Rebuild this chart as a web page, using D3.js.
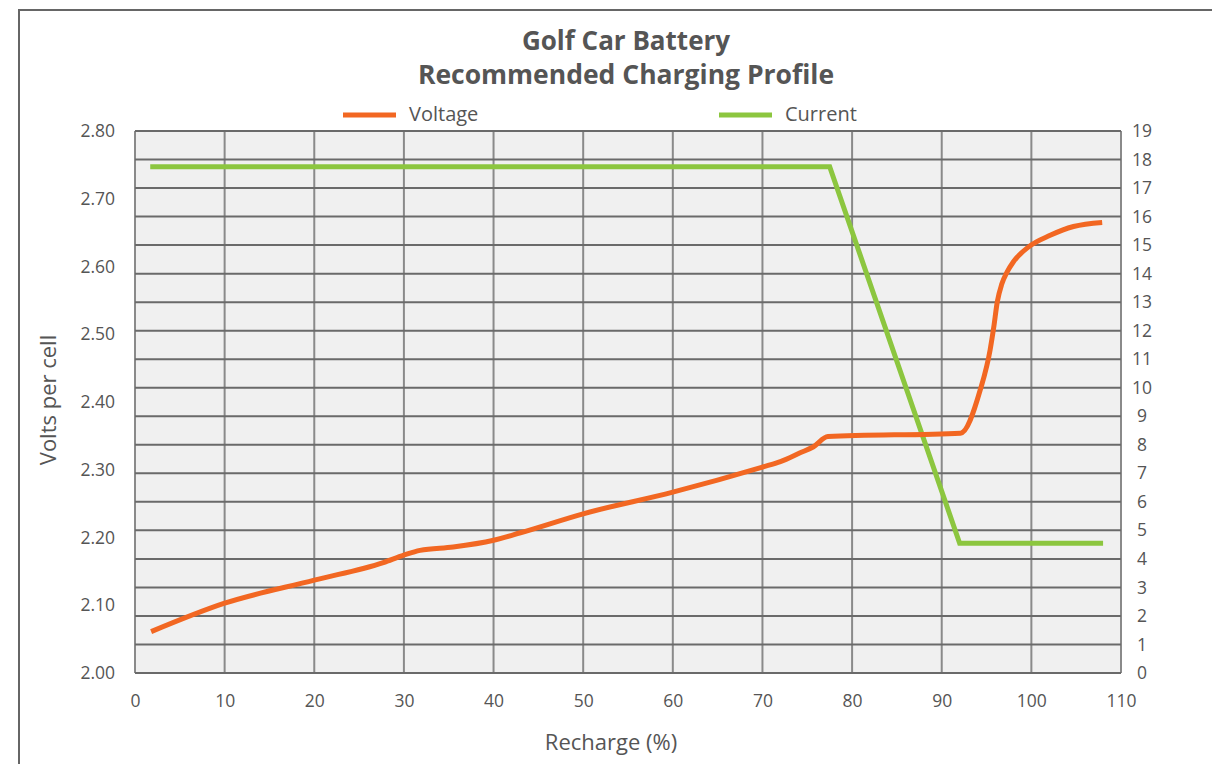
<!DOCTYPE html>
<html lang="en">
<head>
<meta charset="UTF-8">
<title>Golf Car Battery Charging Profile</title>
<script src="https://d3js.org/d3.v7.min.js"></script>
<style>
    body { margin: 0; background: #fff; }
    svg { display: block; font-family: 'Open Sans', 'Noto Sans', sans-serif; }
</style>
</head>
<body>
<svg id="chart" width="1212" height="764"></svg>
<script>
// recharge % / volts per cell
const voltageX = [1.8, 10, 20, 27.7, 30, 31.8, 35.5, 40, 43, 50, 60, 70, 72, 74.2, 75.7, 77.3, 92.1, 94.3, 95.4, 95.8, 96.2, 96.7, 97.3, 98, 99.7, 102.1, 104.7, 107.9];
const voltageY = [2.061, 2.103, 2.137, 2.163, 2.174, 2.181, 2.186, 2.196, 2.207, 2.235, 2.267, 2.304, 2.312, 2.325, 2.334, 2.349, 2.354, 2.418, 2.477, 2.510, 2.548, 2.574, 2.592, 2.607, 2.629, 2.646, 2.659, 2.665];
// recharge % / current (A)
const currentX = [1.7, 77.5, 92, 108];
const currentY = [17.75, 17.75, 4.55, 4.55];

const xTicks = d3.range(0, 111, 10);
const voltTicks = [2.0, 2.1, 2.2, 2.3, 2.4, 2.5, 2.6, 2.7, 2.8];
const ampTicks = d3.range(0, 20);

const W = 1212, H = 764;
const m = { left: 135, right: 1121, top: 131, bottom: 673 };
const textCol = "#555";
const orange = "#f26722";
const green = "#8cc63f";

const svg = d3.select("#chart");

// outer frame
svg.append("path")
    .attr("d", `M19,${H} V10 H${W}`)
    .attr("fill", "none")
    .attr("stroke", "#666")
    .attr("stroke-width", 2);

const x = d3.scaleLinear().domain([0, 110]).range([m.left, m.right]);
const yV = d3.scaleLinear().domain([2.0, 2.8]).range([m.bottom, m.top]);
const yA = d3.scaleLinear().domain([0, 19]).range([m.bottom, m.top]);

// plot background
svg.append("rect")
    .attr("x", m.left).attr("y", m.top)
    .attr("width", m.right - m.left).attr("height", m.bottom - m.top)
    .attr("fill", "#f0f0f0");

// grid
svg.append("g").selectAll("line").data(xTicks).join("line")
    .attr("x1", d => x(d)).attr("x2", d => x(d))
    .attr("y1", m.top).attr("y2", m.bottom)
    .attr("stroke", "#8a8a8a").attr("stroke-width", 2);
svg.append("g").selectAll("line").data(ampTicks).join("line")
    .attr("x1", m.left).attr("x2", m.right)
    .attr("y1", d => yA(d)).attr("y2", d => yA(d))
    .attr("stroke", "#6a6a6a").attr("stroke-width", 2);

// axes (labels only)
const xAxis = svg.append("g")
    .attr("transform", `translate(0,${m.bottom})`)
    .call(d3.axisBottom(x).tickValues(xTicks).tickSize(0).tickPadding(22));
const leftAxis = svg.append("g")
    .attr("transform", `translate(${m.left},0)`)
    .call(d3.axisLeft(yV).tickValues(voltTicks).tickFormat(d3.format(".2f")).tickSize(0).tickPadding(20));
const rightAxis = svg.append("g")
    .attr("transform", `translate(${m.right},0)`)
    .call(d3.axisRight(yA).tickValues(ampTicks).tickSize(0).tickPadding(12));
[xAxis, leftAxis, rightAxis].forEach(g => {
    g.attr("font-family", null).attr("font-size", null);
    g.select(".domain").remove();
    g.selectAll("text").attr("fill", textCol).style("font-size", "17.5px");
});
rightAxis.selectAll("text").attr("text-anchor", "middle").attr("x", 21);

// lines
const vData = voltageX.map((v, i) => [v, voltageY[i]]);
const aData = currentX.map((v, i) => [v, currentY[i]]);

svg.append("path")
    .datum(aData)
    .attr("fill", "none")
    .attr("stroke", green)
    .attr("stroke-width", 5)
    .attr("d", d3.line().x(d => x(d[0])).y(d => yA(d[1])));

svg.append("path")
    .datum(vData)
    .attr("fill", "none")
    .attr("stroke", orange)
    .attr("stroke-width", 5)
    .attr("d", d3.line().curve(d3.curveMonotoneX).x(d => x(d[0])).y(d => yV(d[1])));

// titles
svg.append("text")
    .attr("x", 626).attr("y", 50)
    .attr("text-anchor", "middle")
    .attr("fill", textCol).style("font-size", "26px").style("font-weight", "bold")
    .text("Golf Car Battery");
svg.append("text")
    .attr("x", 626).attr("y", 84)
    .attr("text-anchor", "middle")
    .attr("fill", textCol).style("font-size", "26.5px").style("font-weight", "bold")
    .text("Recommended Charging Profile");

// legend
const legend = [
    { name: "Voltage", color: orange, x0: 343 },
    { name: "Current", color: green, x0: 719 }
];
legend.forEach(l => {
    svg.append("line")
        .attr("x1", l.x0).attr("x2", l.x0 + 53)
        .attr("y1", 115).attr("y2", 115)
        .attr("stroke", l.color).attr("stroke-width", 5);
    svg.append("text")
        .attr("x", l.x0 + 66).attr("y", 121)
        .attr("fill", textCol).style("font-size", "20px")
        .text(l.name);
});

// axis titles
svg.append("text")
    .attr("x", 611).attr("y", 750)
    .attr("text-anchor", "middle")
    .attr("fill", textCol).style("font-size", "22px")
    .text("Recharge (%)");
svg.append("text")
    .attr("transform", "translate(56,400) rotate(-90)")
    .attr("text-anchor", "middle")
    .attr("fill", textCol).style("font-size", "22px")
    .text("Volts per cell");
</script>
</body>
</html>
